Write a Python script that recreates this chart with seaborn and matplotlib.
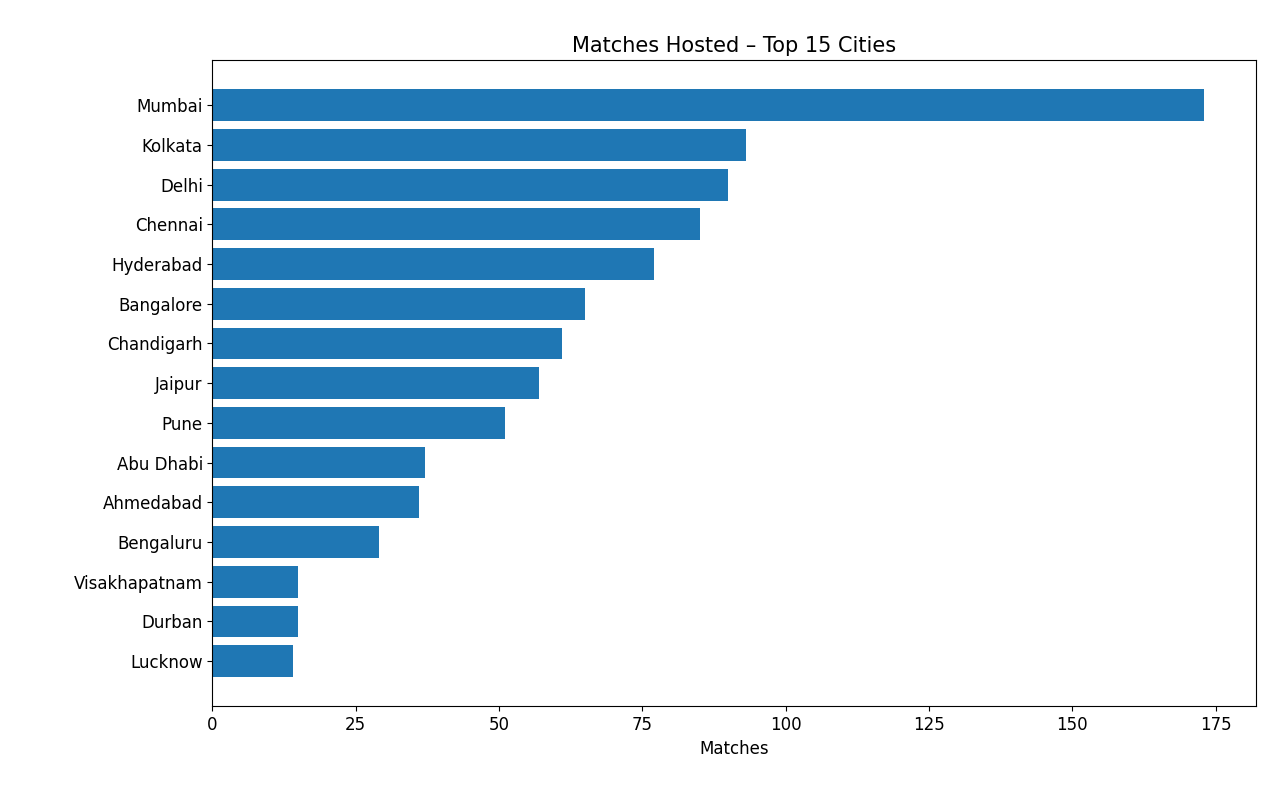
import matplotlib
matplotlib.use("Agg")
import pandas as pd
import seaborn as sns
from matplotlib import pyplot as plt

cities = ["Mumbai", "Kolkata", "Delhi", "Chennai", "Hyderabad", "Bangalore",
          "Chandigarh", "Jaipur", "Pune", "Abu Dhabi", "Ahmedabad", "Bengaluru",
          "Visakhapatnam", "Durban", "Lucknow"]
matches = [173, 93, 90, 85, 77, 65, 61, 57, 51, 37, 36, 29, 15, 15, 14]

df = pd.DataFrame({"city": cities, "matches": matches})

fig, ax = plt.subplots(figsize=(12.8, 8), dpi=100)
sns.barplot(data=df, x="matches", y="city", orient="h", color="#1f77b4",
            saturation=1, width=0.8, ax=ax)
n = len(cities)
ax.set_ylim(n - 1 + 0.4 + 0.74, -0.4 - 0.74)
ax.set_xlim(0, max(matches) * 1.052)
ax.set_title("Matches Hosted – Top 15 Cities", fontsize=15)
ax.set_xlabel("Matches", fontsize=12)
ax.set_ylabel("")
ax.tick_params(labelsize=12)
plt.subplots_adjust(left=0.166, right=0.981, top=0.925, bottom=0.117)
plt.savefig("out.png")
